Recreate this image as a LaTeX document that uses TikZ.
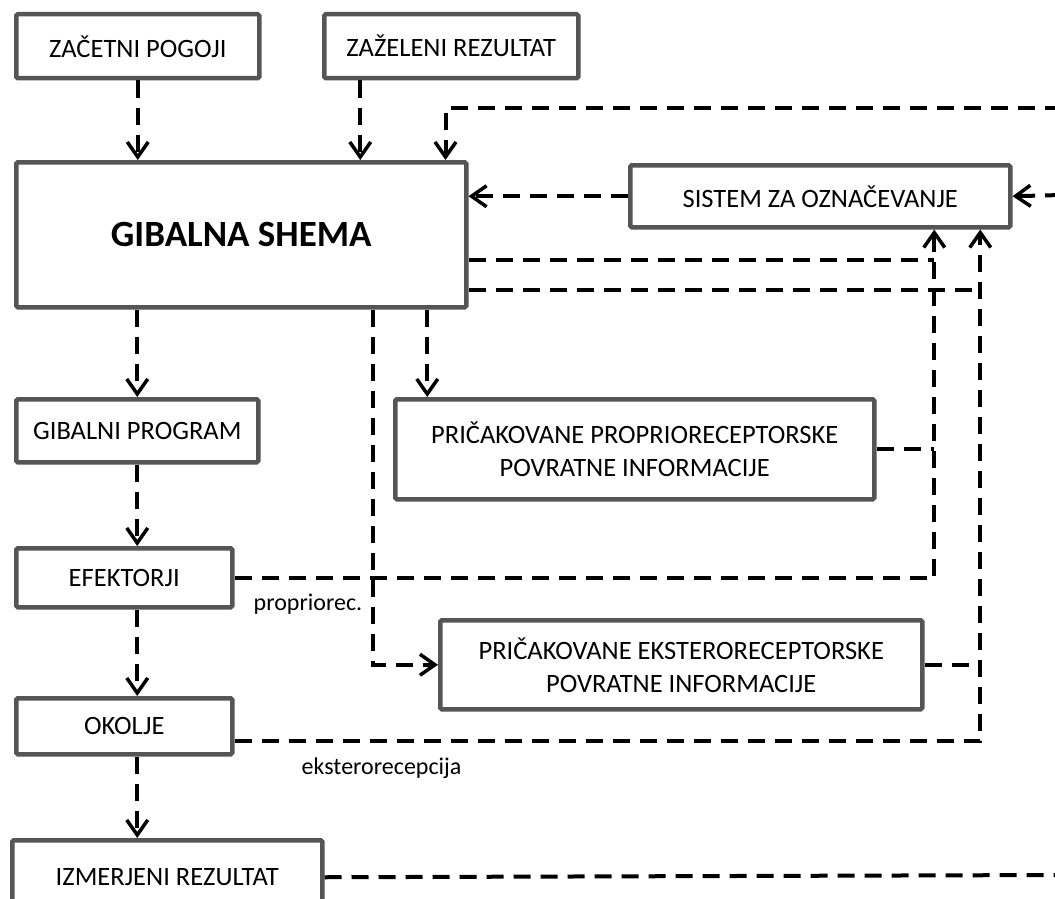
\documentclass[tikz,border=0pt]{standalone}
\usepackage{fontspec}
\setmainfont{Carlito}
\usetikzlibrary{positioning,arrows.meta}
\definecolor{boxgray}{HTML}{555555}

\tikzset{
  blok/.style={draw=boxgray, line width=4.5pt, fill=white, rounded corners=1.5pt,
    inner sep=0pt, anchor=north west, align=center,
    font=\fontsize{26.5}{33}\selectfont},
  crta/.style={draw=black, line width=4pt, dash pattern=on 17pt off 10pt},
  tok/.style={crta, -{Straight Barb[length=15pt,width=21pt,line width=3.5pt]}},
  opis/.style={font=\fontsize{24}{28}\selectfont, inner sep=0pt}
}

\begin{document}
\begin{tikzpicture}[x=1pt,y=-1pt]
  \useasboundingbox (0,0) rectangle (1055,899);
  \clip (0,0) rectangle (1055,899);

  % boxes
  \node[blok,minimum width=243pt,minimum height=64pt] (zac) at (14,12) {ZAČETNI POGOJI};
  \node[blok,minimum width=254pt,minimum height=64pt] (zaz) at (322,12) {ZAŽELENI REZULTAT};
  \node[blok,minimum width=450pt,minimum height=145pt,font=\fontsize{37}{40}\selectfont\bfseries] (gib) at (14,160) {GIBALNA SHEMA};
  \node[blok,minimum width=380pt,minimum height=62pt] (sis) at (628,163) {SISTEM ZA OZNAČEVANJE};
  \node[blok,minimum width=242pt,minimum height=63pt] (prog) at (14,397) {GIBALNI PROGRAM};
  \node[blok,minimum width=479pt,minimum height=100pt] (prop) at (393,397) {PRIČAKOVANE PROPRIORECEPTORSKE\\POVRATNE INFORMACIJE};
  \node[blok,minimum width=216pt,minimum height=59pt] (efe) at (14,546) {EFEKTORJI};
  \node[blok,minimum width=482pt,minimum height=89pt] (eks) at (438,618) {PRIČAKOVANE EKSTERORECEPTORSKE\\POVRATNE INFORMACIJE};
  \node[blok,minimum width=216pt,minimum height=56pt] (oko) at (14,696) {OKOLJE};
  \node[blok,minimum width=310pt,minimum height=74pt] (izm) at (10,838) {IZMERJENI REZULTAT};

  % labels
  \node[opis, right=19pt of efe.south east, yshift=5pt] (lblP) {propriorec.};
  \node[opis, below right=1pt and 67pt of oko.south east] (lblE) {eksterorecepcija};

  % free ends at the right edge, feedback columns
  \coordinate (vhodZg) at (1062,108);
  \coordinate (vhodSis) at (1062,195);
  \coordinate (izhodIzm) at (1062,875);
  \coordinate (pP) at ([xshift=114pt]sis.south);
  \coordinate (pE) at ([xshift=160pt]sis.south);

  % into the scheme
  \draw[tok] (zac.south) -- (zac.south |- gib.north);
  \draw[tok] ([xshift=-91pt]zaz.south) coordinate (z1) -- (z1 |- gib.north);
  \draw[tok] (vhodZg) -| ([xshift=-23pt]gib.north east);
  \draw[tok] (sis.west) -- (sis.west -| gib.east);
  \draw[tok] (vhodSis) -- (sis.east);

  % left column
  \draw[tok] (prog.north |- gib.south) -- (prog.north);
  \draw[tok] (prog.south) -- (prog.south |- efe.north);
  \draw[tok] (prog.south |- efe.south) -- (prog.south |- oko.north);
  \draw[tok] (prog.south |- oko.south) -- (prog.south |- izm.north);
  \draw[crta] (izm.east) -- (izhodIzm);

  % expected feedback
  \draw[tok] ([xshift=186pt]gib.south) coordinate (g3) -- (g3 |- prop.north);
  \draw[tok] ([xshift=132pt]gib.south) |- (eks.west);

  % back to the marking system
  \draw[tok] (efe.east) -| (pP);
  \draw[tok] ([yshift=-15pt]oko.east) -| (pE);
  \draw[crta] ([yshift=-25pt]gib.east) coordinate (g1) -- (g1 -| pP);
  \draw[crta] ([yshift=-55pt]gib.east) coordinate (g2) -- (g2 -| pE);
  \draw[crta] (prop.east) -- (prop.east -| pP);
  \draw[crta] (eks.east) -- (eks.east -| pE);
\end{tikzpicture}
\end{document}
